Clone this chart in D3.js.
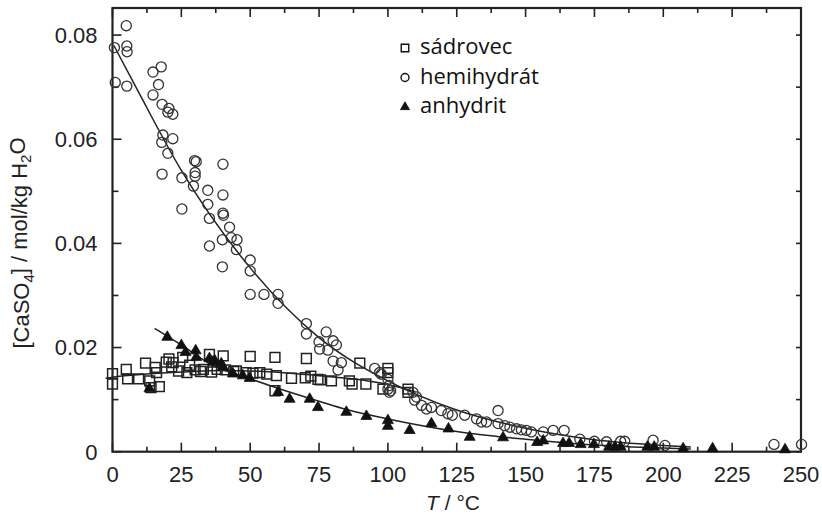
<!DOCTYPE html>
<html>
<head>
<meta charset="utf-8">
<script src="https://cdn.jsdelivr.net/npm/d3@7"></script>
<style>
  body { margin: 0; background: #fff; }
  svg { font-family: "Liberation Sans", Arial, sans-serif; }
</style>
</head>
<body>
<div id="chart"></div>
<script>
// measured points [T in °C, c in mol/kg]
const sadrovec = [
  [0,0.0150],[0,0.0130],[5,0.0158],[5.5,0.0140],[9.5,0.0140],[12,0.0170],[13.5,0.0136],[14,0.0123],
  [15.5,0.0162],[16,0.0152],[17,0.0125],[19.5,0.0172],[20.5,0.0178],[21.5,0.0163],[22,0.0171],[24,0.0155],
  [25.5,0.0181],[27,0.0152],[28,0.0166],[30,0.0157],[32,0.0154],[33,0.0158],[35.2,0.0187],[36,0.0153],
  [38,0.0158],[40.2,0.0184],[41,0.0157],[44,0.0154],[45,0.0155],[48.5,0.0152],[50,0.0183],[51,0.0151],
  [53.5,0.0152],[56,0.0149],[59,0.0181],[59.5,0.0146],[59,0.0117],[65,0.0141],[70.4,0.0179],[70,0.0142],
  [72,0.0145],[74.6,0.0139],[75.5,0.0138],[79.5,0.0136],[86,0.0136],[87,0.0130],[89.8,0.0170],[92,0.0130],
  [98.2,0.0120],[100,0.0160],[100,0.0152],[107.3,0.0120],[107.3,0.0114]
];

const hemihydrat = [
  [0.7,0.0776],[1,0.0709],[5,0.0818],[5.2,0.0779],[5.3,0.0768],[5.2,0.0702],[14.7,0.0729],[17.7,0.0739],
  [16.7,0.0705],[14.7,0.0685],[18,0.0667],[20.5,0.0659],[20.1,0.0652],[21.9,0.0648],[18.3,0.0608],[21.9,0.0601],
  [17.9,0.0594],[20.1,0.0573],[18,0.0533],[25.2,0.0526],[29.8,0.0559],[30.4,0.0557],[30,0.0536],[30,0.0529],
  [29.4,0.0510],[40.1,0.0552],[34.6,0.0502],[40.1,0.0493],[25.2,0.0466],[34.6,0.0475],[35.2,0.0448],[40.1,0.0458],
  [40.3,0.0454],[42.5,0.0431],[39.9,0.0407],[43.1,0.0411],[45.2,0.0407],[45,0.0388],[35.2,0.0395],[39.9,0.0355],
  [50,0.0368],[50,0.0347],[50,0.0302],[55,0.0302],[60.1,0.0302],[60.1,0.0285],[70.4,0.0246],[70.4,0.0226],
  [77.6,0.0230],[75,0.0211],[80.1,0.0213],[81.3,0.0205],[78.2,0.0195],[75.2,0.0197],[80.1,0.0174],[83.1,0.0171],
  [81.9,0.0157],[95.2,0.0160],[97,0.0152],[97.6,0.0149],[100,0.0139],[100.5,0.0127],[100,0.0120],[101,0.0117],
  [100.5,0.0114],[109.1,0.0114],[110.4,0.0105],[109.7,0.0099],[112.2,0.0089],[114,0.0082],[115.8,0.0085],[119.4,0.0079],
  [121.8,0.0073],[123.4,0.0070],[127.9,0.0070],[132.2,0.0063],[134,0.0057],[135.8,0.0057],[140,0.0079],[140,0.0054],
  [142.4,0.0050],[144.3,0.0047],[146.7,0.0044],[148.5,0.0042],[150.3,0.0041],[152.1,0.0038],[156.4,0.0038],[160,0.0041],
  [164,0.0041],[169.7,0.0024],[175,0.0020],[179.4,0.0019],[184.5,0.0020],[186,0.0020],[196.3,0.0022],[200.6,0.0012],
  [240.2,0.0014],[250.2,0.0014]
];

const anhydrit = [
  [13.4,0.0121],[19.9,0.0220],[25,0.0204],[26.5,0.0191],[30.2,0.0194],[30.4,0.0181],[35.2,0.0179],[36.4,0.0172],
  [37.1,0.0175],[39.5,0.0169],[40.1,0.0163],[43.7,0.0150],[47.3,0.0146],[49.8,0.0141],[60.1,0.0114],[64.3,0.0101],
  [71.6,0.0101],[74.6,0.0085],[84.9,0.0076],[92.2,0.0068],[100,0.0060],[100,0.0049],[107.9,0.0041],[115.8,0.0054],
  [122,0.0044],[129.7,0.0028],[141.8,0.0027],[154.2,0.0018],[156.4,0.0021],[163.6,0.0016],[165.8,0.0016],[170,0.0014],
  [174.8,0.0014],[180.3,0.0009],[182.4,0.0009],[184.5,0.0009],[194.2,0.0009],[196.7,0.0009],[207.2,0.0006],[217.9,0.0006],
  [244.2,0.0004]
];

// fitted curves
const fitSadrovec = [[-2.5,0.0141],[0,0.0143],[12.5,0.0149],[25,0.0153],[40,0.0156],[55,0.0154],[75,0.0146],[90,0.0138],[100,0.0129],[110,0.0115]];
const fitHemihydrat = [[0.5,0.0780],[10,0.0685],[25,0.0540],[50,0.0353],[75,0.0219],[100,0.0136],[125,0.0080],[150,0.0045],[175,0.0023],[200,0.0012],[210,0.0009]];
const fitAnhydrit = [[15.3,0.0237],[25,0.0205],[36,0.0167],[50,0.0140],[60,0.0122],[75,0.0097],[85,0.0081],[100,0.0063],[125,0.0039],[150,0.0024],[175,0.0013],[200,0.0007],[210,0.0005]];

const xTicks = [0, 25, 50, 75, 100, 125, 150, 175, 200, 225, 250];
const yTicks = [0, 0.02, 0.04, 0.06, 0.08];
const legendNames = ['sádrovec', 'hemihydrát', 'anhydrit'];

const width = 822, height = 522;
const ink = '#222';

const svg = d3.select('#chart').append('svg')
  .attr('width', width)
  .attr('height', height);

const x = d3.scaleLinear().domain([0, 250]).range([112.5, 801]);
const y = d3.scaleLinear().domain([0, 0.0852]).range([451.7, 8]);

const x0 = x(0), x1 = x(250), y0 = y(0), y1 = y(0.0852);

// ticks (all pointing inward)
const minorX = d3.range(0, 250.01, 12.5);
const minorY = d3.range(0, 0.0801, 0.01);
const isMajorX = t => Math.abs(t % 25) < 1e-6;
const isMajorY = t => Math.abs(Math.round(t * 100) % 2) === 0;

const ticks = svg.append('g').attr('stroke', ink).attr('stroke-width', 1.6);
ticks.selectAll('.bt').data(minorX).join('line')
  .attr('x1', d => x(d)).attr('x2', d => x(d))
  .attr('y1', y0).attr('y2', d => y0 - (isMajorX(d) ? 9 : 5));
ticks.selectAll('.tt').data(minorX).join('line')
  .attr('x1', d => x(d)).attr('x2', d => x(d))
  .attr('y1', y1).attr('y2', d => y1 + (isMajorX(d) ? 9 : 5));
ticks.selectAll('.lt').data(minorY).join('line')
  .attr('y1', d => y(d)).attr('y2', d => y(d))
  .attr('x1', x0).attr('x2', d => x0 + (isMajorY(d) ? 9 : 6));
ticks.selectAll('.rt').data(minorY).join('line')
  .attr('y1', d => y(d)).attr('y2', d => y(d))
  .attr('x1', x1).attr('x2', x1 - 5);

// frame
svg.append('rect')
  .attr('x', x0).attr('y', y1)
  .attr('width', x1 - x0).attr('height', y0 - y1)
  .attr('fill', 'none').attr('stroke', ink).attr('stroke-width', 2.2);

// tick labels
svg.append('g').selectAll('text').data(xTicks).join('text')
  .attr('x', d => x(d)).attr('y', y0 + 30)
  .attr('text-anchor', 'middle')
  .attr('font-size', 22).attr('fill', ink)
  .text(d => d);

svg.append('g').selectAll('text').data(yTicks).join('text')
  .attr('x', x0 - 15).attr('y', d => y(d))
  .attr('dy', '0.36em')
  .attr('text-anchor', 'end')
  .attr('font-size', 22).attr('fill', ink)
  .text(d => d === 0 ? '0' : d3.format('.2f')(d));

// axis titles
const xt = svg.append('text')
  .attr('x', 453).attr('y', 510)
  .attr('text-anchor', 'middle')
  .attr('font-size', 21).attr('fill', ink);
xt.append('tspan').attr('font-style', 'italic').text('T');
xt.append('tspan').text(' / °C');

const yt = svg.append('text')
  .attr('transform', 'translate(29,243) rotate(-90)')
  .attr('text-anchor', 'middle')
  .attr('font-size', 22).attr('fill', ink);
yt.append('tspan').text('[CaSO');
yt.append('tspan').attr('font-size', 15).attr('dy', '0.3em').text('4');
yt.append('tspan').attr('dy', '-0.3em').text('] / mol/kg H');
yt.append('tspan').attr('font-size', 15).attr('dy', '0.3em').text('2');
yt.append('tspan').attr('dy', '-0.3em').text('O');

// fit lines
const line = d3.line()
  .x(d => x(d[0]))
  .y(d => y(d[1]))
  .curve(d3.curveMonotoneX);

[fitSadrovec, fitHemihydrat, fitAnhydrit].forEach(f => {
  svg.append('path')
    .datum(f)
    .attr('d', line)
    .attr('fill', 'none')
    .attr('stroke', ink)
    .attr('stroke-width', 1.5);
});

// markers
const square = d3.symbol().type(d3.symbolSquare).size(96);
const circle = d3.symbol().type(d3.symbolCircle).size(80);
const triangle = d3.symbol().type(d3.symbolTriangle).size(52);

svg.append('g').selectAll('path').data(sadrovec).join('path')
  .attr('transform', d => `translate(${x(d[0])},${y(d[1])})`)
  .attr('d', square)
  .attr('fill', 'none').attr('stroke', ink).attr('stroke-width', 1.5);

svg.append('g').selectAll('path').data(hemihydrat).join('path')
  .attr('transform', d => `translate(${x(d[0])},${y(d[1])})`)
  .attr('d', circle)
  .attr('fill', 'none').attr('stroke', '#333').attr('stroke-width', 1.3);

svg.append('g').selectAll('path').data(anhydrit).join('path')
  .attr('transform', d => `translate(${x(d[0])},${y(d[1])})`)
  .attr('d', triangle)
  .attr('fill', '#111').attr('stroke', '#111').attr('stroke-width', 0.8);

// legend
const legendSymbols = [
  d3.symbol().type(d3.symbolSquare).size(56),
  d3.symbol().type(d3.symbolCircle).size(50),
  d3.symbol().type(d3.symbolTriangle).size(36)
];
const legend = svg.append('g').attr('transform', 'translate(405,48)');
legendNames.forEach((name, i) => {
  const row = legend.append('g').attr('transform', `translate(0,${i * 29.5})`);
  row.append('path')
    .attr('d', legendSymbols[i])
    .attr('fill', i === 2 ? '#111' : 'none')
    .attr('stroke', '#111')
    .attr('stroke-width', i === 2 ? 0.8 : 1.4);
  row.append('text')
    .attr('x', 15).attr('y', 6)
    .attr('font-family', '"Open Sans", sans-serif')
    .attr('font-size', 22)
    .attr('fill', '#111')
    .text(name);
});
</script>
</body>
</html>
